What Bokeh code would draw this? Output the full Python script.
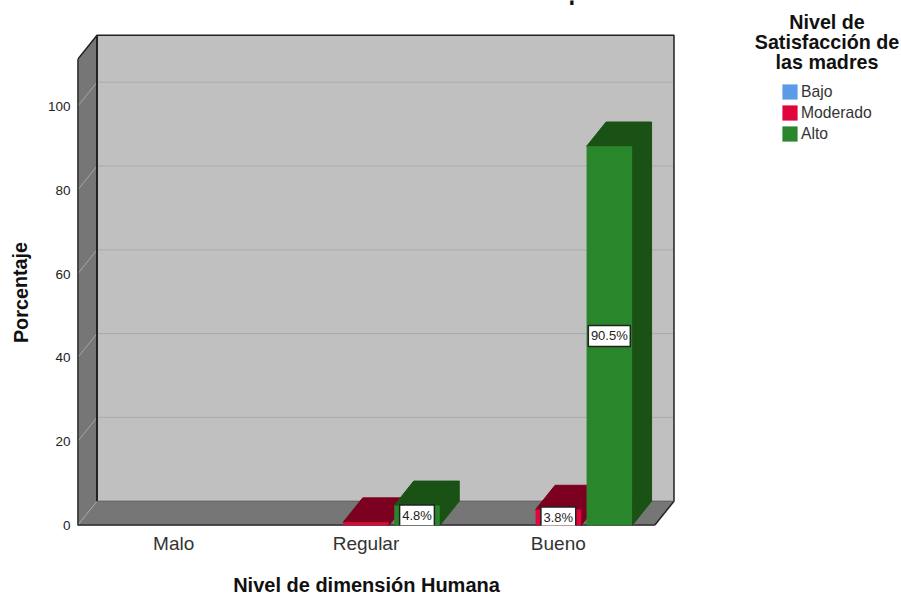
from bokeh.embed import file_html
from bokeh.resources import INLINE
from bokeh.plotting import figure
from bokeh.models import ColumnDataSource, FixedTicker, Label, Legend, LegendItem
from bokeh.core.properties import value

# Chart data
categories = ["Malo", "Regular", "Bueno"]
series_names = ["Bajo", "Moderado", "Alto"]
bajo = [0.0, 0.0, 0.0]
moderado = [0.0, 0.8, 3.8]
alto = [0.0, 4.8, 90.5]
y_ticks = [0, 20, 40, 60, 80, 100]
y_top = 111.2
front_colors = ["#5B9AE6", "#E0053A", "#2A862A"]
dark_colors = ["#2F5A90", "#7C0020", "#1A5216"]
labels = {(1, 2): "4.8%", (2, 1): "3.8%", (2, 2): "90.5%"}

# Frame fills the window from the plot's front-left corner to the right edge
LEFT, BOTTOM, W, H = 77, 70, 901, 595
PX_X = 192.33          # pixels per category
PX_Y = 4.19            # pixels per percentage point
DX = 19.5 / PX_X       # oblique depth, horizontal
DY = 24.3 / PX_Y       # oblique depth, vertical
BAR_W = 45.5 / PX_X
STEP = 51.0 / PX_X
x_max = (W - LEFT) / PX_X - 0.5
y_max = (H - BOTTOM) / PX_Y

p = figure(width=W, height=H, output_backend="svg", toolbar_location=None,
           x_range=(-0.5, x_max), y_range=(0, y_max),
           min_border_left=LEFT, min_border_bottom=BOTTOM,
           min_border_top=0, min_border_right=0, outline_line_color=None)
p.grid.visible = False
p.background_fill_color = "white"
p.border_fill_color = "white"

x0, x1 = -0.5, 2.5
# Walls and floor of the oblique box
p.patch([x0 + DX, x1 + DX, x1 + DX, x0 + DX], [DY, DY, y_top + DY, y_top + DY],
        fill_color="#C0C0C0", line_color=None)
p.patch([x0, x0 + DX, x0 + DX, x0], [0, DY, y_top + DY, y_top],
        fill_color="#767676", line_color=None)
p.patch([x0, x1, x1 + DX, x0 + DX], [0, 0, DY, DY],
        fill_color="#767676", line_color=None)

# Gridlines run along the left wall and across the back wall
for t in y_ticks:
    p.line([x0, x0 + DX], [t, t + DY], line_color="#A6A6A6", line_width=1)
    if t > 0:
        p.line([x0 + DX, x1 + DX], [t + DY, t + DY], line_color="#ABABAB", line_width=1)

# Box edges
box_dark = "#222222"
p.line([x0, x0, x0 + DX, x1 + DX, x1 + DX, x1, x0],
       [0, y_top, y_top + DY, y_top + DY, DY, 0, 0], line_color=box_dark, line_width=1.5)
p.line([x0, x0], [0, y_top], line_color=box_dark, line_width=2)
p.line([x0 + DX, x0 + DX], [DY, y_top + DY], line_color=box_dark, line_width=2)
p.line([x0, x1], [0, 0], line_color=box_dark, line_width=2)
p.line([x0 + DX, x1 + DX], [DY, DY], line_color="#555555", line_width=1)

# Bars, back to front: dark top and side faces, then the front face
legend_items = []
all_series = [bajo, moderado, alto]
for s, (name, vals) in enumerate(zip(series_names, all_series)):
    centers = [c + (s - 1) * STEP for c in range(len(categories))]
    tx, ty, sx, sy = [], [], [], []
    for c, v in zip(centers, vals):
        if v <= 0:
            continue
        l, r = c - BAR_W / 2, c + BAR_W / 2
        tx.append([l, r, r + DX, l + DX])
        ty.append([v, v, v + DY, v + DY])
        sx.append([r, r + DX, r + DX, r])
        sy.append([0, DY, v + DY, v])
    p.patches(tx, ty, fill_color=dark_colors[s], line_color=dark_colors[s], line_width=1)
    p.patches(sx, sy, fill_color=dark_colors[s], line_color=dark_colors[s], line_width=1)
    src = ColumnDataSource(dict(x=centers, top=vals))
    r = p.vbar(x="x", top="top", bottom=0, width=BAR_W, source=src,
               fill_color=front_colors[s], line_color=None)
    legend_items.append(LegendItem(label=name, renderers=[r]))

# Value labels in white boxes at mid-height of their bars
lx, ly, lt, lw = [], [], [], []
for (c, s), text in labels.items():
    lx.append(c + (s - 1) * STEP)
    ly.append(all_series[s][c] / 2)
    lt.append(text)
    lw.append(7.2 * len(text) + 6)
src = ColumnDataSource(dict(x=lx, y=ly, t=lt, w=lw))
p.rect(x="x", y="y", width="w", height=21, width_units="screen", height_units="screen",
       source=src, fill_color="white", line_color="#222222", line_width=1.5)
p.text(x="x", y="y", text="t", source=src, text_align="center", text_baseline="middle",
       text_font=value("Liberation Sans"), text_font_size="13px", text_color="#222222")

# Axes
ax = p.yaxis[0]
ax.ticker = FixedTicker(ticks=y_ticks)
ax.axis_line_color = None
ax.major_tick_line_color = None
ax.minor_tick_line_color = None
ax.major_tick_out = 0
ax.major_tick_in = 0
ax.major_label_text_font = "Liberation Sans"
ax.major_label_text_font_size = "13.5px"
ax.major_label_text_color = "#222222"
ax.major_label_standoff = 7

bx = p.xaxis[0]
bx.ticker = FixedTicker(ticks=[0, 1, 2])
bx.major_label_overrides = {i: c for i, c in enumerate(categories)}
bx.axis_line_color = None
bx.major_tick_line_color = None
bx.minor_tick_line_color = None
bx.major_tick_out = 0
bx.major_tick_in = 0
bx.major_label_text_font = "Liberation Sans"
bx.major_label_text_font_size = "19px"
bx.major_label_text_color = "#333333"
bx.major_label_standoff = 7


def screen_label(text, sx, sy, size, angle=0.0, baseline="middle", align="center"):
    return Label(x=sx, y=sy, x_units="screen", y_units="screen",
                 text=text, text_font="Liberation Sans", text_font_size=size,
                 text_font_style="bold", text_align=align, text_baseline=baseline,
                 text_color="#111111", angle=angle)


# Axis titles live in the side panels, where the frame does not clip them;
# screen coordinates there are measured from each panel's own corner
p.add_layout(screen_label("Porcentaje", -2, H - BOTTOM - 292, "19.8px", angle=1.5708), "left")
p.add_layout(screen_label("Nivel de dimensión Humana", 366 - LEFT, -6, "20px"), "below")

# Descender of the chart title, which sits above the top edge of the page
p.add_layout(screen_label("p", 568 - LEFT, H - BOTTOM + 9, "24px",
                          baseline="alphabetic", align="left"))

# Legend heading
for i, line in enumerate(["Nivel de", "Satisfacción de", "las madres"]):
    p.add_layout(screen_label(line, 826.5 - LEFT, H - BOTTOM - 21 - 20 * i, "19.7px"))

# vbar legend glyphs are inset by a tenth of the glyph box on each side
legend = Legend(items=legend_items, location=(780 - LEFT, H - BOTTOM - 82 - 61),
                background_fill_alpha=0, border_line_color=None,
                glyph_width=19, glyph_height=19, label_text_font="Liberation Sans",
                label_text_font_size="15.7px", label_text_color="#333333",
                spacing=2, padding=0, margin=0, label_standoff=2, label_height=19)
p.add_layout(legend)

open("out.html", "w").write(file_html(p, INLINE))
